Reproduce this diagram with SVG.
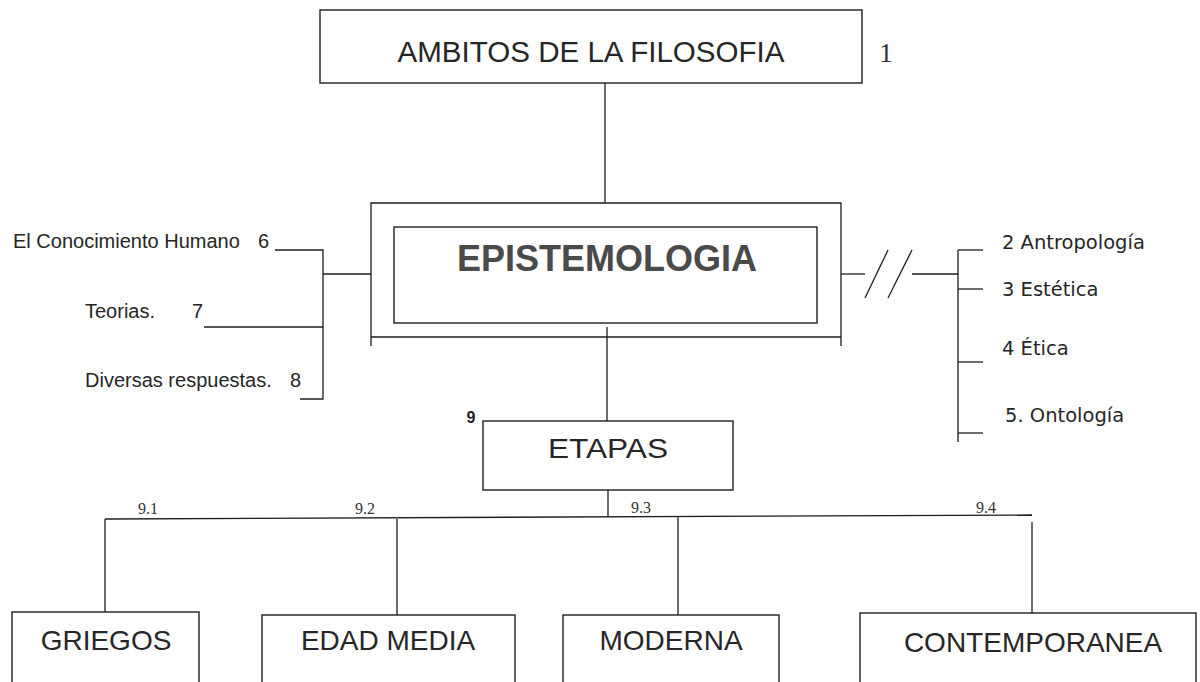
<svg xmlns="http://www.w3.org/2000/svg" width="1200" height="682" viewBox="0 0 1200 682">
<style>
.box{fill:#fff;stroke:#1e1e1e;stroke-width:1.4}
.ln{fill:none;stroke:#1e1e1e;stroke-width:1.3}
.t{font-family:"Liberation Sans",Arial,sans-serif;fill:#262626}
.big{font-size:28px;text-anchor:middle}
.lft{font-size:20px}
.rgt{font-family:"DejaVu Sans",Verdana,sans-serif;font-size:19.5px;fill:#262626}
.num{font-family:"Liberation Serif","Times New Roman",serif;font-size:16px;fill:#333}
</style>
<rect width="1200" height="682" fill="#fff"/>
<g id="connectors">
  <line class="ln" x1="605" y1="83" x2="605" y2="203"/>
  <line class="ln" x1="607" y1="327" x2="607" y2="421"/>
  <line class="ln" x1="608" y1="490" x2="608" y2="517"/>
  <polyline class="ln" points="275,250 323,250 323,399 300,399"/>
  <line class="ln" x1="204" y1="327" x2="323" y2="327"/>
  <line class="ln" x1="323" y1="274" x2="371" y2="274"/>
  <line class="ln" x1="841" y1="274" x2="865" y2="274"/>
  <line class="ln" x1="865" y1="298" x2="888" y2="250"/>
  <line class="ln" x1="888" y1="298" x2="912" y2="250"/>
  <line class="ln" x1="912" y1="274" x2="958" y2="274"/>
  <line class="ln" x1="958" y1="250" x2="958" y2="442"/>
  <line class="ln" x1="958" y1="250" x2="983" y2="250"/>
  <line class="ln" x1="958" y1="289" x2="983" y2="289"/>
  <line class="ln" x1="958" y1="362" x2="983" y2="362"/>
  <line class="ln" x1="958" y1="433" x2="983" y2="433"/>
  <line class="ln" x1="105" y1="519" x2="1032" y2="515"/>
  <line class="ln" x1="105" y1="519" x2="105" y2="612"/>
  <line class="ln" x1="397" y1="519" x2="397" y2="615"/>
  <line class="ln" x1="678" y1="517" x2="678" y2="625"/>
  <line class="ln" x1="1032" y1="522" x2="1032" y2="613"/>
</g>
<g id="ambitos">
  <rect class="box" x="320" y="10" width="542" height="73"/>
  <text class="t" x="591" y="62" font-size="29" text-anchor="middle" textLength="387" lengthAdjust="spacingAndGlyphs">AMBITOS DE LA FILOSOFIA</text>
  <text x="886" y="62" font-family="Liberation Serif,'Times New Roman',serif" font-size="27" fill="#333" text-anchor="middle">1</text>
</g>
<g id="epistemologia">
  <polyline class="ln" points="371,346 371,203 841,203 841,346"/>
  <line class="ln" x1="371" y1="337" x2="841" y2="337"/>
  <rect class="box" x="394" y="227" width="423" height="96" fill="none"/>
  <text x="607" y="271" font-family="Liberation Sans,Arial,sans-serif" font-size="36" font-weight="bold" fill="#4a4a4a" text-anchor="middle" textLength="300" lengthAdjust="spacingAndGlyphs">EPISTEMOLOGIA</text>
</g>
<g id="left-items">
  <text class="t lft" x="13" y="248">El Conocimiento Humano</text>
  <text class="t lft" x="258" y="248">6</text>
  <text class="t lft" x="85" y="318">Teorias.</text>
  <text class="t lft" x="192" y="318">7</text>
  <text class="t lft" x="85" y="387">Diversas respuestas.</text>
  <text class="t lft" x="290" y="387">8</text>
</g>
<g id="right-items">
  <text class="rgt" x="1002" y="249">2 Antropología</text>
  <text class="rgt" x="1002" y="296">3 Estética</text>
  <text class="rgt" x="1002" y="355">4 Ética</text>
  <text class="rgt" x="1005" y="422">5. Ontología</text>
</g>
<g id="etapas">
  <rect class="box" x="483" y="421" width="250" height="69"/>
  <text class="t" x="608" y="458" font-size="27" text-anchor="middle" textLength="120" lengthAdjust="spacingAndGlyphs">ETAPAS</text>
  <text x="471" y="423" font-family="Liberation Sans,Arial,sans-serif" font-size="16" font-weight="bold" fill="#222" text-anchor="middle">9</text>
</g>
<g id="labels">
  <text class="num" x="148" y="514" text-anchor="middle">9.1</text>
  <text class="num" x="365" y="514" text-anchor="middle">9.2</text>
  <text class="num" x="641" y="513" text-anchor="middle">9.3</text>
  <text class="num" x="986" y="513" text-anchor="middle">9.4</text>
</g>
<g id="griegos">
  <rect class="box" x="12" y="612" width="187" height="90"/>
  <text class="t big" x="106" y="650">GRIEGOS</text>
</g>
<g id="edad-media">
  <rect class="box" x="262" y="615" width="253" height="90"/>
  <text class="t big" x="388" y="650">EDAD MEDIA</text>
</g>
<g id="moderna">
  <rect class="box" x="563" y="615" width="216" height="90"/>
  <text class="t big" x="671" y="650">MODERNA</text>
</g>
<g id="contemporanea">
  <rect class="box" x="860" y="613" width="336" height="90"/>
  <text class="t big" x="1033" y="652">CONTEMPORANEA</text>
</g>
</svg>
